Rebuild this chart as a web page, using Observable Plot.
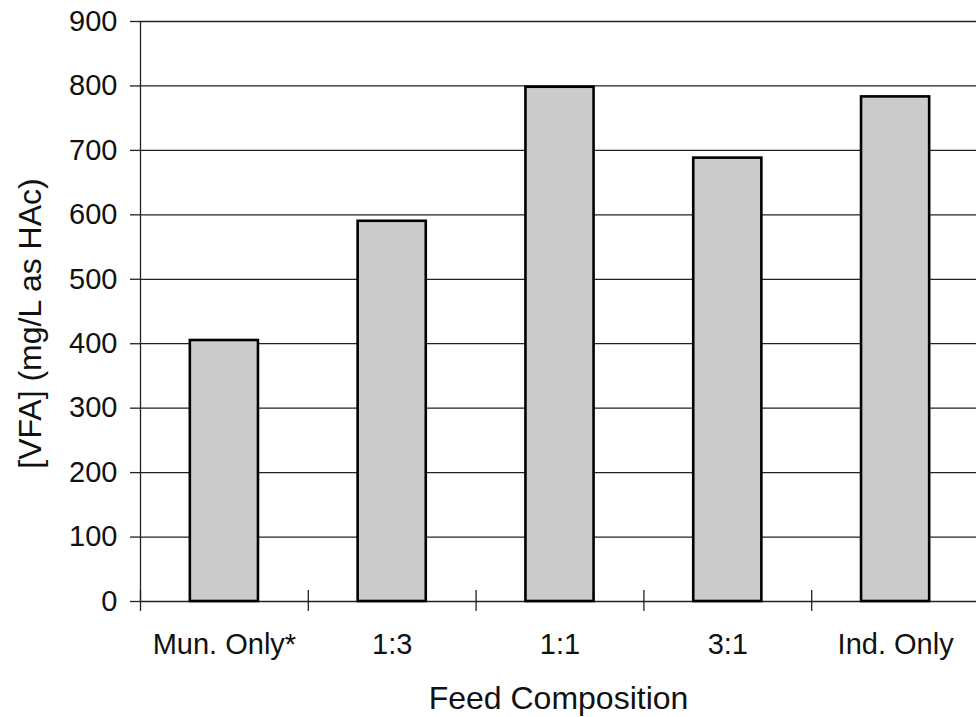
<!DOCTYPE html>
<html>
<head>
<meta charset="utf-8">
<script src="https://cdn.jsdelivr.net/npm/d3@7"></script>
<script src="https://cdn.jsdelivr.net/npm/@observablehq/plot@0.6"></script>
<style>
  html, body { margin: 0; padding: 0; background: #fff; }
  #chart svg { display: block; }
</style>
</head>
<body>
<div id="chart"></div>
<script>
// Feed composition categories and measured VFA concentrations (mg/L as HAc)
const categories = ["Mun. Only*", "1:3", "1:1", "3:1", "Ind. Only"];
const vfa = [405, 590, 798, 688, 783];
const yTicks = [0, 100, 200, 300, 400, 500, 600, 700, 800, 900];

const data = categories.map((c, i) => ({ c, i, v: vfa[i] }));
const barHalf = 0.203;           // half bar width, in category steps
const boundaries = d3.range(0, categories.length + 1);
const font = "'Liberation Sans', Arial, Helvetica, sans-serif";

const chart = Plot.plot({
  width: 976,
  height: 717,
  marginLeft: 140,
  marginTop: 21,
  marginBottom: 116,
  marginRight: 0,
  style: { fontFamily: font, fontSize: "29px", color: "#111", background: "#fff" },
  x: { domain: [0, categories.length], range: [140, 979], axis: null },
  y: { domain: [0, 900], axis: null },
  marks: [
    // horizontal gridlines, including the baseline
    Plot.ruleY(yTicks, { stroke: "#222", strokeWidth: 1.3 }),
    // y axis line
    Plot.ruleX([0], { stroke: "#222", strokeWidth: 1.3 }),
    // y ticks and labels
    Plot.axisY(yTicks, {
      tickSize: 10, tickPadding: 13, stroke: "#222", strokeWidth: 1.3,
      fontSize: 29, label: null, tickFormat: d => String(d)
    }),
    // category boundary ticks crossing the baseline
    Plot.axisX(boundaries, {
      tickSize: 21, dy: -11, tickFormat: () => "", stroke: "#222", strokeWidth: 1.3, label: null
    }),
    // bars
    Plot.rectY(data, {
      x1: d => d.i + 0.5 - barHalf,
      x2: d => d.i + 0.5 + barHalf,
      y: "v",
      fill: "#cbcbcb",
      stroke: "#000",
      strokeWidth: 2.6
    }),
    // category labels
    Plot.text(data, {
      x: d => d.i + 0.5, text: "c", frameAnchor: "bottom", lineAnchor: "middle", dy: 43,
      fontSize: 29, fill: "#111"
    }),
    // axis titles
    Plot.text(["Feed Composition"], {
      frameAnchor: "bottom", lineAnchor: "middle", textAnchor: "middle", dy: 97,
      fontSize: 32, fill: "#111"
    }),
    Plot.text(["[VFA] (mg/L as HAc)"], {
      frameAnchor: "left", textAnchor: "middle", lineAnchor: "middle", rotate: -90,
      dx: -110, dy: 12, fontSize: 32, fill: "#111"
    })
  ]
});

document.getElementById("chart").appendChild(chart);
</script>
</body>
</html>
